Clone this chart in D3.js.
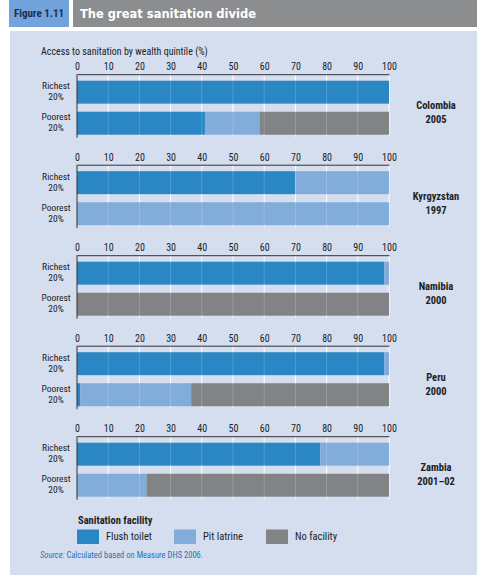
<!DOCTYPE html>
<html>
<head>
<meta charset="utf-8">
<script src="https://cdn.jsdelivr.net/npm/d3@7/dist/d3.min.js"></script>
<style>
  html, body { margin: 0; padding: 0; background: #ffffff; }
  svg { display: block; }
  text { font-family: "Liberation Sans Narrow", "Arial Narrow", "Roboto Condensed", "Liberation Sans", Arial, sans-serif; }
</style>
</head>
<body>
<script>
// Countries (with survey year), quintile rows and facility series
const countries = ["Colombia", "Kyrgyzstan", "Namibia", "Peru", "Zambia"];
const years = ["2005", "1997", "2000", "2000", "2001\u201302"];
const quintiles = ["Richest", "Poorest"];
const facilities = ["Flush toilet", "Pit latrine", "No facility"];

// Share of households (%) per country: [richest, poorest]
const flushToilet = [[100, 41], [70, 0], [98.5, 0], [98.5, 1], [78, 0]];
const pitLatrine  = [[0, 17.5], [30, 100], [1.5, 0], [1.5, 35.6], [22, 22.3]];
const noFacility  = [[0, 41.5], [0, 0], [0, 100], [0, 63.4], [0, 77.7]];

const xTicks = [0, 10, 20, 30, 40, 50, 60, 70, 80, 90, 100];

const colors = ["#2a87c4", "#82acd9", "#818385"];

const W = 477, H = 576;
const svg = d3.select("body").append("svg").attr("width", W).attr("height", H);

// Header
svg.append("rect").attr("x", 9).attr("y", 0).attr("width", 60).attr("height", 27).attr("fill", "#72a3dc");
svg.append("text").attr("x", 39).attr("y", 14).attr("text-anchor", "middle").attr("dominant-baseline", "middle")
  .attr("font-size", 11).attr("font-weight", "bold").attr("fill", "#1d2f4f").text("Figure 1.11");
svg.append("rect").attr("x", 73).attr("y", 0).attr("width", W - 73).attr("height", 27).attr("fill", "#8b8d8f");
svg.append("text").attr("x", 80).attr("y", 14).attr("dominant-baseline", "middle")
  .attr("font-size", 11.5).attr("font-weight", "bold").attr("fill", "#ffffff")
  .style("font-family", "'DejaVu Sans', 'Liberation Sans', Arial, sans-serif")
  .text("The great sanitation divide");

// Panel background
svg.append("rect").attr("x", 10).attr("y", 31).attr("width", W - 10).attr("height", 544).attr("fill", "#d4deef");

svg.append("text").attr("x", 41).attr("y", 52).attr("dominant-baseline", "middle")
  .attr("font-size", 10).attr("fill", "#222").text("Access to sanitation by wealth quintile (%)");

const x = d3.scaleLinear().domain([0, 100]).range([77, 389]);
const panelY = d3.scalePoint().domain(countries).range([80.7, 442.7]);
const rowY = d3.scaleBand().domain(quintiles).range([0, 54]).paddingInner(0.26);

const seriesSets = [flushToilet, pitLatrine, noFacility];

countries.forEach((c, ci) => {
  const top = panelY(c);
  const g = svg.append("g");

  // white gridlines behind bars
  g.selectAll("line.grid").data(xTicks.slice(1)).join("line")
    .attr("x1", d => x(d)).attr("x2", d => x(d))
    .attr("y1", top - 6.5).attr("y2", top + 56)
    .attr("stroke", "#ffffff").attr("stroke-width", 1);

  // stacked bars
  quintiles.forEach((q, qi) => {
    let acc = 0;
    seriesSets.forEach((s, si) => {
      const v = s[ci][qi];
      if (v > 0) {
        g.append("rect")
          .attr("x", x(acc)).attr("width", x(acc + v) - x(acc))
          .attr("y", top + rowY(q)).attr("height", rowY.bandwidth())
          .attr("fill", colors[si]);
      }
      acc += v;
    });
    const cy = top + rowY(q) + rowY.bandwidth() / 2;
    g.append("text").attr("x", 56).attr("y", cy - 5.5).attr("text-anchor", "middle").attr("dominant-baseline", "middle")
      .attr("font-size", 9.5).attr("fill", "#222").text(q);
    g.append("text").attr("x", 56).attr("y", cy + 5.5).attr("text-anchor", "middle").attr("dominant-baseline", "middle")
      .attr("font-size", 9.5).attr("fill", "#222").text("20%");
  });

  // faint grid showing through the bars
  g.selectAll("line.gridover").data(xTicks.slice(1, -1)).join("line")
    .attr("x1", d => x(d)).attr("x2", d => x(d))
    .attr("y1", top).attr("y2", top + 54)
    .attr("stroke", "#ffffff").attr("stroke-opacity", 0.18).attr("stroke-width", 1);

  // top axis
  const axis = d3.axisTop(x).tickValues(xTicks).tickSize(0).tickPadding(4).tickFormat(d3.format("d"));
  const ag = g.append("g").attr("transform", `translate(0,${top - 6.5})`).call(axis);
  ag.select(".domain").attr("stroke", "#333").attr("stroke-width", 1);
  ag.selectAll("text").attr("font-size", 10).attr("fill", "#222")
    .style("font-family", "'Liberation Sans Narrow', 'Arial Narrow', 'Roboto Condensed', sans-serif");

  // left axis line
  g.append("line").attr("x1", x(0)).attr("x2", x(0)).attr("y1", top - 6.5).attr("y2", top + 57)
    .attr("stroke", "#333").attr("stroke-width", 1);

  // country label
  const mid = top + 27 + 6;
  g.append("text").attr("x", 436).attr("y", mid - 7).attr("text-anchor", "middle").attr("dominant-baseline", "middle")
    .attr("font-size", 10.5).attr("font-weight", "bold").attr("fill", "#222").text(c);
  g.append("text").attr("x", 436).attr("y", mid + 7).attr("text-anchor", "middle").attr("dominant-baseline", "middle")
    .attr("font-size", 10.5).attr("font-weight", "bold").attr("fill", "#222").text(years[ci]);
});

// Legend
svg.append("text").attr("x", 78).attr("y", 521).attr("dominant-baseline", "middle")
  .attr("font-size", 10.5).attr("font-weight", "bold").attr("fill", "#222").text("Sanitation facility");
const legendX = [77, 174, 266];
facilities.forEach((f, i) => {
  svg.append("rect").attr("x", legendX[i]).attr("y", 529.5).attr("width", 22).attr("height", 14.5).attr("fill", colors[i]);
  svg.append("text").attr("x", legendX[i] + 29).attr("y", 537).attr("dominant-baseline", "middle")
    .attr("font-size", 10.5).attr("fill", "#222").text(f);
});

// Source note
const src = svg.append("text").attr("x", 40).attr("y", 556).attr("dominant-baseline", "middle")
  .attr("font-size", 8.5).attr("fill", "#2e6fb3");
src.append("tspan").attr("font-style", "italic").text("Source:");
src.append("tspan").text(" Calculated based on Measure DHS 2006.");
</script>
</body>
</html>
